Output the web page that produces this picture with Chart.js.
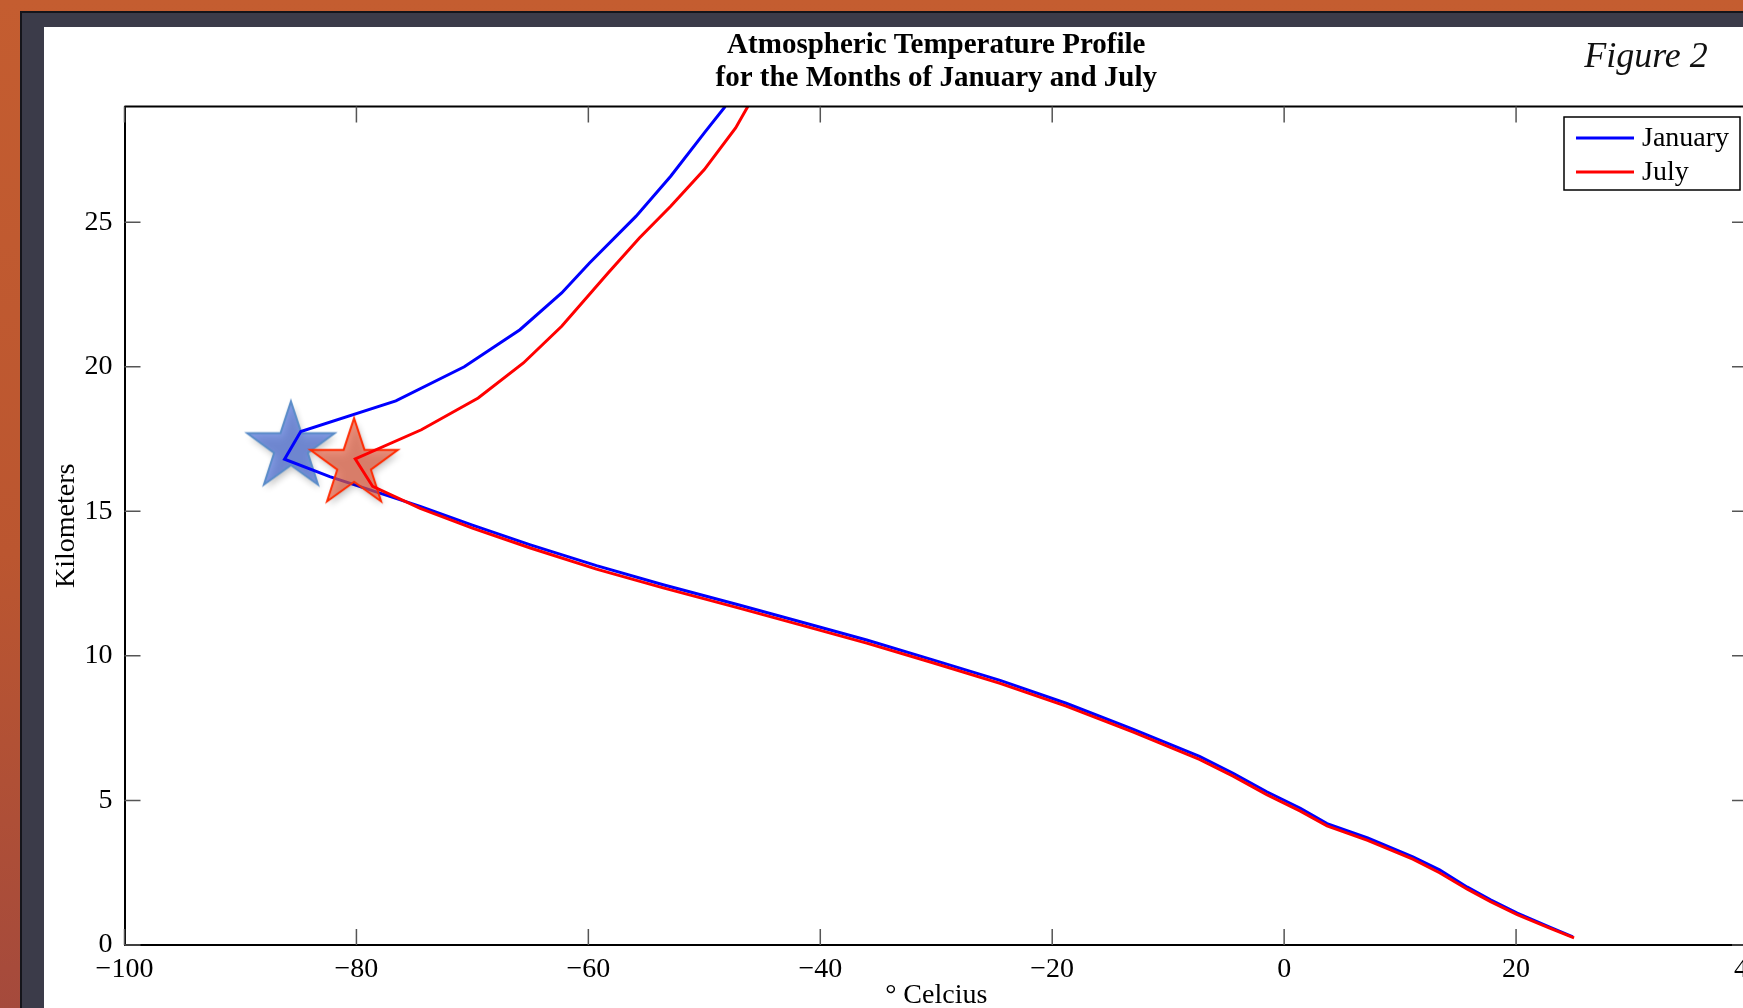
<!DOCTYPE html>
<html>
<head>
<meta charset="utf-8">
<script src="https://cdn.jsdelivr.net/npm/chart.js@4.4.0/dist/chart.umd.min.js"></script>
<style>
  html, body { margin: 0; padding: 0; }
  body { width: 1743px; height: 1008px; overflow: hidden; position: relative;
    background: linear-gradient(180deg, #c45d30 0%, #bb5630 55%, #a54a3c 100%); }
  #frame { position: absolute; left: 20px; top: 11px; width: 1760px; height: 1040px;
    background: #3b3b49; border-top: 2px solid #15151b; border-left: 2px solid #15151b; }
  #paper { position: absolute; left: 44px; top: 27px; width: 1740px; height: 1000px; background: #fff; }
  #wrap { position: absolute; left: 0; top: 0; width: 1780px; height: 1020px; }
</style>
</head>
<body>
<div id="frame"></div>
<div id="paper"></div>
<div id="wrap"><canvas id="profile" width="1780" height="1020"></canvas></div>
<script>
// temperature (deg C) against altitude (km)
var janTemp = [24.9, 22.9, 20.1, 17.8, 15.8, 13.4, 11.1, 7.2, 3.7, 1.4, -1.5, -4.4, -7.3, -13.0, -18.8, -24.5, -30.3, -36.0, -41.8,
  -47.0, -53.55, -59.3, -65.0, -70.0, -74.5, -82.3, -86.2,
  -84.8, -76.6, -70.7, -65.9, -62.3, -59.9, -55.9, -52.9, -49.9, -48.2];
var janAlt = [0.28, 0.62, 1.1, 1.56, 2.0, 2.6, 3.05, 3.7, 4.2, 4.73, 5.3, 5.94, 6.52, 7.46, 8.36, 9.15, 9.86, 10.55, 11.19,
  11.76, 12.46, 13.12, 13.84, 14.52, 15.17, 16.2, 16.8,
  17.76, 18.82, 20.0, 21.28, 22.55, 23.59, 25.2, 26.59, 28.14, 29.0];
var julTemp = [25.0, 22.9, 20.1, 17.8, 15.8, 13.4, 11.1, 7.2, 3.7, 1.4, -1.5, -4.4, -7.3, -13.0, -18.8, -24.5, -30.3, -36.0, -41.8,
  -47.0, -53.55, -59.3, -65.0, -70.0, -74.5, -78.6, -80.1,
  -74.4, -69.5, -65.6, -62.3, -58.3, -55.6, -52.9, -50.0, -47.3, -46.25];
var julAlt = [0.25, 0.58, 1.05, 1.5, 1.93, 2.5, 2.97, 3.62, 4.12, 4.63, 5.2, 5.84, 6.42, 7.36, 8.26, 9.05, 9.76, 10.44, 11.08,
  11.65, 12.35, 13.0, 13.73, 14.42, 15.1, 15.86, 16.81,
  17.82, 18.92, 20.13, 21.4, 23.24, 24.45, 25.55, 26.82, 28.26, 29.0];
// tropopause markers: January, July
var starTemp = [-85.65, -80.2];
var starAlt = [17.21, 16.63];

var xTicks = [-100, -80, -60, -40, -20, 0, 20, 40];
var yTicks = [0, 5, 10, 15, 20, 25];

var serif = "'Liberation Serif', 'Times New Roman', serif";

function pts(xs, ys) {
  return xs.map(function (x, i) { return { x: x, y: ys[i] }; });
}

function makeStar(fill, stroke) {
  var c = document.createElement('canvas');
  c.width = 120; c.height = 120;
  var g = c.getContext('2d');
  var R = 46, r = 46 * 0.385;
  g.beginPath();
  for (var i = 0; i < 10; i++) {
    var rad = i % 2 ? r : R;
    var a = -Math.PI / 2 + i * Math.PI / 5;
    g.lineTo(60 + rad * Math.cos(a), 60 + rad * Math.sin(a));
  }
  g.closePath();
  g.shadowColor = 'rgba(0,0,0,0.35)';
  g.shadowBlur = 7; g.shadowOffsetX = 2; g.shadowOffsetY = 4;
  g.fillStyle = fill;
  g.fill();
  g.shadowColor = 'transparent';
  g.lineWidth = 2;
  g.strokeStyle = stroke;
  g.stroke();
  return c;
}

function minus(v) { return String(v).replace('-', '\u2212'); }

// box, inward ticks, legend and figure tag
var decor = {
  id: 'decor',
  afterDraw: function (chart) {
    var ctx = chart.ctx, a = chart.chartArea;
    var sx = chart.scales.x, sy = chart.scales.y;
    ctx.save();
    ctx.strokeStyle = '#000';
    ctx.lineWidth = 2;
    ctx.beginPath();
    ctx.moveTo(a.left, a.top); ctx.lineTo(a.right, a.top); ctx.lineTo(a.right, a.bottom);
    ctx.stroke();

    ctx.strokeStyle = '#555';
    ctx.lineWidth = 1.5;
    ctx.beginPath();
    xTicks.forEach(function (v) {
      var p = sx.getPixelForValue(v);
      ctx.moveTo(p, a.bottom); ctx.lineTo(p, a.bottom - 16);
      ctx.moveTo(p, a.top); ctx.lineTo(p, a.top + 16);
    });
    yTicks.forEach(function (v) {
      var p = sy.getPixelForValue(v);
      ctx.moveTo(a.left, p); ctx.lineTo(a.left + 16, p);
      ctx.moveTo(a.right, p); ctx.lineTo(a.right - 16, p);
    });
    ctx.stroke();

    // legend
    var lx = 1564, ly = 117;
    ctx.fillStyle = '#fff';
    ctx.fillRect(lx, ly, 176, 73);
    ctx.strokeStyle = '#000';
    ctx.lineWidth = 1.5;
    ctx.strokeRect(lx, ly, 176, 73);
    var items = chart.data.datasets.filter(function (d) { return d.showLine; });
    items.sort(function (p, q) { return q.order - p.order; });
    ctx.font = '28px ' + serif;
    ctx.textBaseline = 'middle';
    ctx.textAlign = 'left';
    items.forEach(function (d, i) {
      var y = ly + 21 + i * 34;
      ctx.strokeStyle = d.borderColor;
      ctx.lineWidth = 3;
      ctx.beginPath(); ctx.moveTo(lx + 12, y); ctx.lineTo(lx + 70, y); ctx.stroke();
      ctx.fillStyle = '#000';
      ctx.fillText(d.label, lx + 78, y + 1);
    });

    ctx.font = 'italic 36px ' + serif;
    ctx.textAlign = 'center';
    ctx.textBaseline = 'alphabetic';
    ctx.fillStyle = '#111';
    ctx.fillText('Figure 2', 1646, 67);
    ctx.restore();
  }
};

var context = document.getElementById('profile');
var profile = new Chart(context, {
  type: 'scatter',
  data: {
    datasets: [
      {
        label: 'July',
        data: pts(julTemp, julAlt),
        showLine: true,
        borderColor: '#ff0000',
        borderWidth: 3,
        pointRadius: 0,
        tension: 0,
        order: 1
      },
      {
        label: 'July tropopause',
        data: [{ x: starTemp[1], y: starAlt[1] }],
        pointStyle: makeStar('rgba(226,91,62,0.68)', '#ff2a00'),
        pointRadius: 10,
        order: 2
      },
      {
        label: 'January',
        data: pts(janTemp, janAlt),
        showLine: true,
        borderColor: '#0000ff',
        borderWidth: 3,
        pointRadius: 0,
        tension: 0,
        order: 3
      },
      {
        label: 'January tropopause',
        data: [{ x: starTemp[0], y: starAlt[0] }],
        pointStyle: makeStar('rgba(69,105,212,0.68)', '#5a8cc8'),
        pointRadius: 10,
        order: 4
      }
    ]
  },
  options: {
    responsive: false,
    animation: false,
    layout: { padding: { left: 0, right: 32, top: 0, bottom: 0 } },
    plugins: {
      legend: { display: false },
      tooltip: { enabled: false },
      title: {
        display: true,
        fullSize: false,
        text: ['Atmospheric Temperature Profile', 'for the Months of January and July'],
        color: '#000',
        font: { family: serif, size: 29, weight: 'bold', lineHeight: 1.138 },
        padding: { top: 29.5, bottom: 11 }
      }
    },
    scales: {
      x: {
        type: 'linear',
        min: -100,
        max: 40,
        grid: { display: false, drawTicks: false },
        border: { display: true, color: '#000', width: 2 },
        afterBuildTicks: function (s) { s.ticks = xTicks.map(function (v) { return { value: v }; }); },
        afterFit: function (s) { s.height = 75; },
        ticks: {
          color: '#000',
          padding: 8,
          maxRotation: 0,
          font: { family: serif, size: 28 },
          callback: function (v) { return minus(v); }
        },
        title: {
          display: true,
          text: '\u00B0 Celcius',
          color: '#000',
          font: { family: serif, size: 28 },
          padding: { top: 0, bottom: 8 }
        }
      },
      y: {
        type: 'linear',
        min: 0,
        max: 29,
        grid: { display: false, drawTicks: false },
        border: { display: true, color: '#000', width: 2 },
        afterBuildTicks: function (s) { s.ticks = yTicks.map(function (v) { return { value: v }; }); },
        afterFit: function (s) { s.width = 124.5; },
        ticks: {
          color: '#000',
          padding: 12,
          font: { family: serif, size: 28 },
          callback: function (v) { return minus(v); }
        },
        title: {
          display: true,
          text: 'Kilometers',
          color: '#000',
          font: { family: serif, size: 28 },
          padding: { top: 50, bottom: 0 }
        }
      }
    }
  },
  plugins: [decor]
});
</script>
</body>
</html>
